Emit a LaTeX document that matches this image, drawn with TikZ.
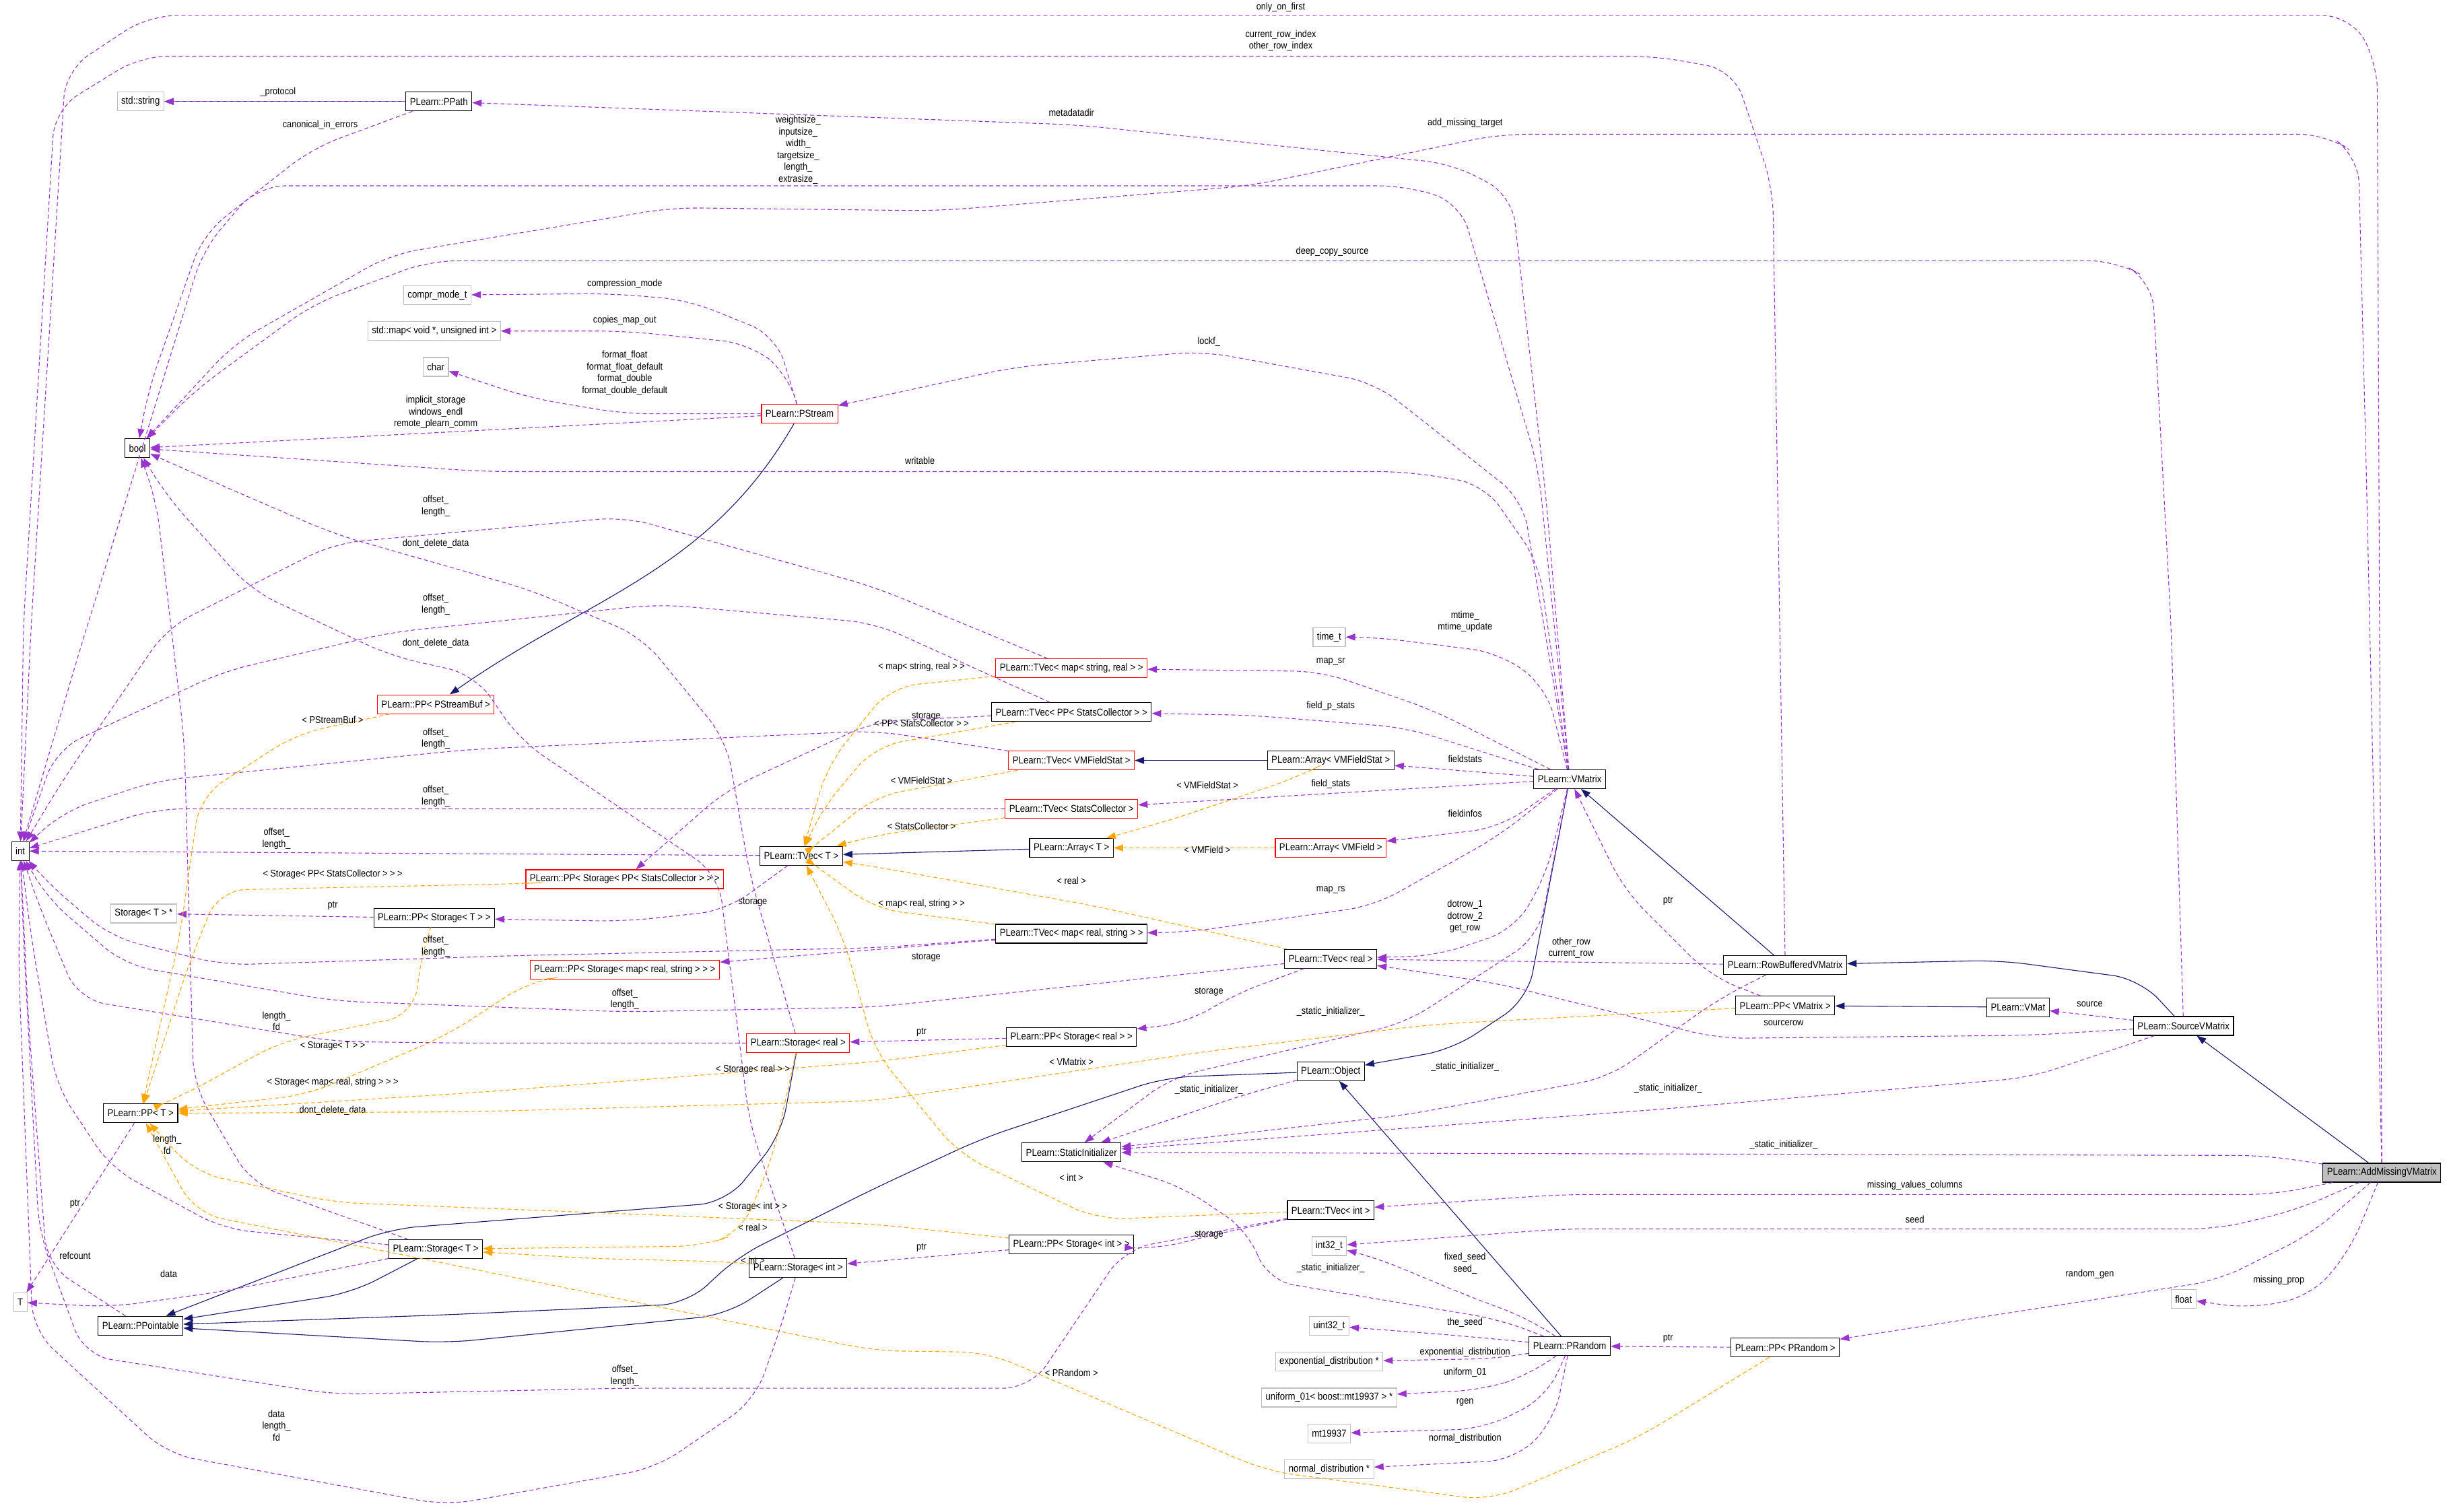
\documentclass[tikz,border=0pt]{standalone}
\usepackage{fontspec}
\setmainfont[FakeStretch=0.88]{Liberation Sans}
\usetikzlibrary{arrows.meta}
\definecolor{pu}{HTML}{9A32CD}
\definecolor{nv}{HTML}{191970}
\definecolor{og}{HTML}{FFA500}
\definecolor{gb}{HTML}{BFBFBF}
\tikzset{
 bx/.style={draw=black,line width=1.2pt,fill=white,font=\fontsize{15}{18}\selectfont,minimum height=28pt,inner xsep=6pt,inner ysep=3pt},
 rbx/.style={bx,draw=red},
 gbx/.style={bx,draw=gb},
 lb/.style={font=\fontsize{14.5}{17.5}\selectfont,align=center,inner sep=0pt},
 u/.style={draw=pu,line width=1.1pt,dash pattern=on 6pt off 4pt,-{Triangle[length=14pt,width=10pt]},rounded corners=40pt},
 tp/.style={draw=og,line width=1.1pt,dash pattern=on 6pt off 4pt,-{Triangle[length=14pt,width=10pt]},rounded corners=40pt},
 inh/.style={draw=nv,line width=1.1pt,-{Triangle[length=14pt,width=10pt]},rounded corners=40pt}
}
\begin{document}
\begin{tikzpicture}[x=2.3195pt,y=-2.3195pt]
\useasboundingbox (0,0) rectangle (1568,968.3);
% nodes
\node[gbx] (str) at (90,65) {std::string};
\node[bx] (ppath) at (281,65) {PLearn::PPath};
\node[bx] (bool) at (88,287) {bool};
\node[gbx] (compr) at (280,189) {compr\_mode\_t};
\node[gbx] (stdmap) at (278,212) {std::map< void *, unsigned int >};
\node[gbx] (char) at (279,235) {char};
\node[rbx] (pstream) at (512,265) {PLearn::PStream};
\node[gbx] (timet) at (851,408) {time\_t};
\node[rbx] (tvmsr) at (686,428) {PLearn::TVec< map< string, real > >};
\node[bx] (tvppsc) at (686,456) {PLearn::TVec< PP< StatsCollector > >};
\node[rbx] (ppsb) at (279,451) {PLearn::PP< PStreamBuf >};
\node[rbx] (tvvmfs) at (686,487) {PLearn::TVec< VMFieldStat >};
\node[bx] (arvmfs) at (852,487) {PLearn::Array< VMFieldStat >};
\node[bx] (vmatrix) at (1005,499) {PLearn::VMatrix};
\node[rbx] (tvsc) at (686,518) {PLearn::TVec< StatsCollector >};
\node[bx] (int) at (13,545) {int};
\node[bx] (tvT) at (513,548) {PLearn::TVec< T >};
\node[bx] (arT) at (686,543) {PLearn::Array< T >};
\node[rbx] (arvmf) at (852,543) {PLearn::Array< VMField >};
\node[rbx] (ppstppsc) at (400,563) {PLearn::PP< Storage< PP< StatsCollector > > >};
\node[gbx] (storTp) at (92,585) {Storage< T > *};
\node[bx] (ppstT) at (278,588) {PLearn::PP< Storage< T > >};
\node[bx] (tvmrs) at (686,598) {PLearn::TVec< map< real, string > >};
\node[bx] (tvreal) at (852,614) {PLearn::TVec< real >};
\node[bx] (rowbuf) at (1143,618) {PLearn::RowBufferedVMatrix};
\node[rbx] (ppstmrs) at (400,621) {PLearn::PP< Storage< map< real, string > > >};
\node[bx] (ppvm) at (1143,644) {PLearn::PP< VMatrix >};
\node[bx] (vmat) at (1292,645) {PLearn::VMat};
\node[bx] (srcvm) at (1398,657) {PLearn::SourceVMatrix};
\node[rbx] (storreal) at (511,668) {PLearn::Storage< real >};
\node[bx] (ppstreal) at (686,664) {PLearn::PP< Storage< real > >};
\node[bx] (object) at (852,686) {PLearn::Object};
\node[bx] (ppT) at (90,713) {PLearn::PP< T >};
\node[bx] (statinit) at (686,738) {PLearn::StaticInitializer};
\node[bx,fill=gb] (addmiss) at (1525,751) {PLearn::AddMissingVMatrix};
\node[bx] (tvint) at (852,775) {PLearn::TVec< int >};
\node[gbx] (int32) at (851,798) {int32\_t};
\node[bx] (ppstint) at (686,797) {PLearn::PP< Storage< int > >};
\node[bx] (storT) at (279,800) {PLearn::Storage< T >};
\node[bx] (storint) at (511,812) {PLearn::Storage< int >};
\node[gbx] (float) at (1398,832) {float};
\node[gbx] (T) at (13,834) {T};
\node[bx] (ppointable) at (90,849) {PLearn::PPointable};
\node[gbx] (uint32) at (851,849) {uint32\_t};
\node[bx] (prandom) at (1005,862) {PLearn::PRandom};
\node[bx] (pprandom) at (1143,863) {PLearn::PP< PRandom >};
\node[gbx] (expd) at (851,872) {exponential\_distribution *};
\node[gbx] (unif) at (851,895) {uniform\_01< boost::mt19937 > *};
\node[gbx] (mt) at (851,918) {mt19937};
\node[gbx] (normd) at (851,941) {normal\_distribution *};
% inheritance
\draw[inh] (ppath) -- (str);
\draw[inh] (pstream) to[out=240,in=35] (ppsb);
\draw[inh] (arvmfs) -- (tvvmfs);
\draw[inh] (arT) -- (tvT);
\draw[inh] (vmatrix) -- (978,640) -- (930,672) -- (object);
\draw[inh] (rowbuf) -- (vmatrix);
\draw[inh] (vmat) -- (ppvm);
\draw[inh] (srcvm) -- (1370,627) -- (1280,615) -- (rowbuf);
\draw[inh] (addmiss) -- (srcvm);
\draw[inh] (object) -- (746,690) -- (629,729) -- (560,761) -- (472,805) -- (440,835) -- (286,842) -- (ppointable);
\draw[inh] (prandom) -- (object);
\draw[inh] (storreal) -- (500,727) -- (465,770) -- (250,787) -- (ppointable);
\draw[inh] (storT) -- (225,828) -- (ppointable);
\draw[inh] (storint) -- (465,842) -- (286,860) -- (ppointable);
% usage edges
\draw[u] (addmiss) -- (1522,40) -- (1505,10) -- (95,10) -- (42,45) -- (20,400) -- (int);
\node[lb] (l1) at (820,4.5) {only\_on\_first};
\draw[u] (rowbuf) -- (1135,120) -- (1110,45) -- (1060,36) -- (90,36) -- (35,70) -- (15,400) -- (int);
\node[lb] (l2) at (820,26) {current\_row\_index\\other\_row\_index};
\draw[u] (vmatrix) -- (985,300) -- (935,130) -- (900,119) -- (165,119) -- (130,160) -- (50,420) -- (int);
\node[lb] (l3) at (511,96) {weightsize\_\\inputsize\_\\width\_\\targetsize\_\\length\_\\extrasize\_};
\draw[u] (vmatrix) -- (990,320) -- (968,125) -- (930,105) -- (690,80) -- (ppath);
\node[lb] (l4) at (686,72) {metadatadir};
\draw[u] (addmiss) -- (1515,300) -- (1510,100) -- (1490,86) -- (960,86) -- (800,119) -- (600,135) -- (430,133) -- (250,163) -- (150,220) -- (bool);
\node[lb] (l5) at (938,79) {add\_missing\_target};
\draw[u] (srcvm) -- (1390,400) -- (1378,180) -- (1355,167) -- (275,167) -- (200,195) -- (125,250) -- (bool);
\node[lb] (l6) at (853,161) {deep\_copy\_source};
\draw[u] (vmatrix) -- (975,320) -- (880,245) -- (770,225) -- (650,235) -- (pstream);
\node[lb] (l7) at (774,219) {lockf\_};
\draw[u] (vmatrix) -- (985,360) -- (950,310) -- (900,302) -- (310,302) -- (bool);
\node[lb] (l8) at (589,295) {writable};
\draw[u] (ppath) -- (str);
\node[lb] (l9) at (178,59) {\_protocol};
\draw[u] (ppath) -- (200,95) -- (130,150) -- (95,250) -- (bool);
\node[lb] (l10) at (205,80) {canonical\_in\_errors};
\draw[u] (pstream) -- (497,215) -- (440,192) -- (390,188) -- (compr);
\node[lb] (l11) at (400,182) {compression\_mode};
\draw[u] (pstream) -- (505,240) -- (480,220) -- (400,212) -- (stdmap);
\node[lb] (l12) at (400,205) {copies\_map\_out};
\draw[u] (pstream) -- (400,265) -- (340,255) -- (char);
\node[lb] (l13) at (400,239) {format\_float\\format\_float\_default\\format\_double\\format\_double\_default};
\draw[u] (pstream) -- (bool);
\node[lb] (l14) at (279,264) {implicit\_storage\\windows\_endl\\remote\_plearn\_comm};
\draw[u] (tvmsr) -- (560,376) -- (400,331) -- (214,348) -- (107,402) -- (40,500) -- (int);
\node[lb] (l15) at (279,324) {offset\_\\length\_};
\draw[u] (tvppsc) -- (560,399) -- (422,387) -- (250,405) -- (143,430) -- (36,480) -- (int);
\node[lb] (l16) at (279,387) {offset\_\\length\_};
\draw[u] (storreal) -- (480,560) -- (465,474) -- (411,408) -- (340,378) -- (214,342) -- (140,310) -- (bool);
\node[lb] (l17) at (279,348) {dont\_delete\_data};
\draw[u] (storint) -- (480,720) -- (460,560) -- (333,474) -- (304,432) -- (250,420) -- (161,378) -- (107,318) -- (bool);
\node[lb] (l18) at (279,412) {dont\_delete\_data};
\draw[u] (storT) -- (161,758) -- (124,695) -- (118,474) -- (100,320) -- (bool);
\node[lb] (l19) at (213,711) {dont\_delete\_data};
\draw[u] (tvT) -- (int);
\node[lb] (l20) at (177,537) {offset\_\\length\_};
\draw[u] (tvvmfs) -- (560,468) -- (300,480) -- (100,500) -- (40,520) -- (int);
\node[lb] (l21) at (279,473) {offset\_\\length\_};
\draw[u] (tvsc) -- (100,518) -- (int);
\node[lb] (l22) at (279,510) {offset\_\\length\_};
\draw[u] (tvmrs) -- (560,607) -- (330,612) -- (143,618) -- (71,600) -- (30,565) -- (int);
\node[lb] (l23) at (279,606) {offset\_\\length\_};
\draw[u] (tvreal) -- (560,645) -- (400,648) -- (214,641) -- (80,618) -- (30,575) -- (int);
\node[lb] (l24) at (400,640) {offset\_\\length\_};
\draw[u] (storreal) -- (300,668) -- (214,667) -- (50,640) -- (25,580) -- (int);
\node[lb] (l25) at (177,654) {length\_\\fd};
\draw[u] (tvint) -- (720,800) -- (660,889) -- (400,889) -- (214,893) -- (54,868) -- (25,789) -- (15,600) -- (int);
\node[lb] (l26) at (400,881) {offset\_\\length\_};
\draw[u] (storint) -- (500,850) -- (483,897) -- (420,940) -- (286,964) -- (107,931) -- (21,852) -- (12,620) -- (int);
\node[lb] (l27) at (177,913) {data\\length\_\\fd};
\draw[u] (storT) -- (143,787) -- (71,748) -- (36,695) -- (20,600) -- (int);
\node[lb] (l28) at (107,733) {length\_\\fd};
\draw[u] (storT) -- (143,827) -- (71,837) -- (T);
\node[lb] (l29) at (108,816) {data};
\draw[u] (ppointable) -- (30,810) -- (18,650) -- (int);
\node[lb] (l30) at (48,804) {refcount};
\draw[u] (ppT) -- (T);
\node[lb] (l31) at (48,771) {ptr};
\draw[u] (ppstT) -- (storTp);
\node[lb] (l32) at (213,580) {ptr};
\draw[u] (tvT) -- (465,583) -- (400,590) -- (ppstT);
\node[lb] (l33) at (482,578) {storage};
\draw[u] (tvppsc) -- (560,462) -- (465,506) -- (ppstppsc);
\node[lb] (l34) at (593,459) {storage};
\draw[u] (tvmrs) -- (ppstmrs);
\node[lb] (l35) at (593,613) {storage};
\draw[u] (ppstreal) -- (storreal);
\node[lb] (l36) at (590,661) {ptr};
\draw[u] (tvreal) -- (790,637) -- (760,655) -- (ppstreal);
\node[lb] (l37) at (774,635) {storage};
\draw[u] (ppstint) -- (storint);
\node[lb] (l38) at (590,799) {ptr};
\draw[u] (tvint) -- (780,790) -- (740,800) -- (ppstint);
\node[lb] (l39) at (774,791) {storage};
\draw[u] (vmatrix) -- (918,455) -- (846,430) -- (tvmsr);
\node[lb] (l40) at (852,424) {map\_sr};
\draw[u] (vmatrix) -- (900,466) -- (800,458) -- (tvppsc);
\node[lb] (l41) at (852,452) {field\_p\_stats};
\draw[u] (vmatrix) -- (arvmfs);
\node[lb] (l42) at (938,486) {fieldstats};
\draw[u] (vmatrix) -- (tvsc);
\node[lb] (l43) at (852,502) {field\_stats};
\draw[u] (vmatrix) -- (960,530) -- (arvmf);
\node[lb] (l44) at (938,521) {fieldinfos};
\draw[u] (vmatrix) -- (960,535) -- (880,580) -- (760,597) -- (tvmrs);
\node[lb] (l45) at (852,570) {map\_rs};
\draw[u] (vmatrix) -- (990,560) -- (970,595) -- (920,612) -- (tvreal);
\node[lb] (l46) at (938,587) {dotrow\_1\\dotrow\_2\\get\_row};
\draw[u] (vmatrix) -- (990,440) -- (960,418) -- (880,408) -- (timet);
\node[lb] (l47) at (938,398) {mtime\_\\mtime\_update};
\draw[u] (vmatrix) -- (985,600) -- (900,655) -- (750,690) -- (statinit);
\node[lb] (l48) at (852,648) {\_static\_initializer\_};
\draw[u] (rowbuf) -- (tvreal);
\node[lb] (l49) at (1006,607) {other\_row\\current\_row};
\draw[u] (rowbuf) -- (1100,640) -- (1030,690) -- (900,714) -- (statinit);
\node[lb] (l50) at (938,683) {\_static\_initializer\_};
\draw[u] (ppvm) -- (1095,625) -- (1040,570) -- (vmatrix);
\node[lb] (l51) at (1068,577) {ptr};
\draw[u] (srcvm) -- (vmat);
\node[lb] (l52) at (1338,643) {source};
\draw[u] (srcvm) -- (1300,663) -- (1100,665) -- (960,630) -- (tvreal);
\node[lb] (l53) at (1142,655) {sourcerow};
\draw[u] (srcvm) -- (1300,690) -- (1068,710) -- (800,730) -- (statinit);
\node[lb] (l54) at (1068,697) {\_static\_initializer\_};
\draw[u] (addmiss) -- (1450,740) -- (statinit);
\node[lb] (l55) at (1142,733) {\_static\_initializer\_};
\draw[u] (addmiss) -- (1455,765) -- (1000,765) -- (tvint);
\node[lb] (l56) at (1226,759) {missing\_values\_columns};
\draw[u] (addmiss) -- (1470,775) -- (1420,787) -- (1000,787) -- (int32);
\node[lb] (l57) at (1226,781) {seed};
\draw[u] (addmiss) -- (1480,790) -- (1420,820) -- (pprandom);
\node[lb] (l58) at (1338,816) {random\_gen};
\draw[u] (addmiss) -- (1505,800) -- (1480,830) -- (1440,838) -- (float);
\node[lb] (l59) at (1459,820) {missing\_prop};
\draw[u] (object) -- (800,700) -- (statinit);
\node[lb] (l60) at (774,698) {\_static\_initializer\_};
\draw[u] (prandom) -- (960,845) -- (811,820) -- (800,789) -- (757,760) -- (statinit);
\node[lb] (l61) at (852,812) {\_static\_initializer\_};
\draw[u] (prandom) -- (980,845) -- (940,830) -- (880,805) -- (int32);
\node[lb] (l62) at (938,809) {fixed\_seed\\seed\_};
\draw[u] (prandom) -- (930,855) -- (uint32);
\node[lb] (l63) at (938,847) {the\_seed};
\draw[u] (prandom) -- (960,870) -- (expd);
\node[lb] (l64) at (938,866) {exponential\_distribution};
\draw[u] (prandom) -- (980,880) -- (950,890) -- (unif);
\node[lb] (l65) at (938,879) {uniform\_01};
\draw[u] (prandom) -- (990,895) -- (950,915) -- (mt);
\node[lb] (l66) at (938,898) {rgen};
\draw[u] (prandom) -- (995,910) -- (970,935) -- (normd);
\node[lb] (l67) at (938,921) {normal\_distribution};
\draw[u] (pprandom) -- (prandom);
\node[lb] (l68) at (1068,857) {ptr};
% template edges
\draw[tp] (ppsb) -- (190,470) -- (128,510) -- (115,600) -- (ppT);
\node[lb] (t1) at (213,461) {< PStreamBuf >};
\draw[tp] (ppstppsc) -- (330,566) -- (140,570) -- (120,620) -- (ppT);
\node[lb] (t2) at (213,560) {< Storage< PP< StatsCollector > > >};
\draw[tp] (ppstT) -- (270,610) -- (265,650) -- (180,667) -- (120,700) -- (ppT);
\node[lb] (t3) at (213,670) {< Storage< T > >};
\draw[tp] (ppstmrs) -- (340,628) -- (286,663) -- (197,701) -- (ppT);
\node[lb] (t4) at (213,693) {< Storage< map< real, string > > >};
\draw[tp] (ppstreal) -- (560,680) -- (300,700) -- (ppT);
\node[lb] (t5) at (482,685) {< Storage< real > >};
\draw[tp] (ppvm) -- (918,656) -- (775,673) -- (560,705) -- (300,712) -- (ppT);
\node[lb] (t6) at (686,680) {< VMatrix >};
\draw[tp] (ppstint) -- (560,784) -- (393,777) -- (214,770) -- (125,751) -- (ppT);
\node[lb] (t7) at (482,773) {< Storage< int > >};
\draw[tp] (pprandom) -- (1050,920) -- (954,961) -- (811,942) -- (632,866) -- (560,865) -- (250,802) -- (125,777) -- (ppT);
\node[lb] (t8) at (686,879) {< PRandom >};
\draw[tp] (storreal) -- (495,740) -- (475,789) -- (450,798) -- (storT);
\node[lb] (t9) at (482,786) {< real >};
\draw[tp] (storint) -- (465,808) -- (380,806) -- (storT);
\node[lb] (t10) at (482,807) {< int >};
\draw[tp] (tvreal) -- (700,580) -- (560,555) -- (tvT);
\node[lb] (t11) at (686,564) {< real >};
\draw[tp] (tvint) -- (703,781) -- (614,739) -- (560,673) -- (540,600) -- (tvT);
\node[lb] (t12) at (686,754) {< int >};
\draw[tp] (tvmsr) -- (570,440) -- (530,490) -- (tvT);
\node[lb] (t13) at (590,427) {< map< string, real > >};
\draw[tp] (tvppsc) -- (560,478) -- (525,520) -- (tvT);
\node[lb] (t14) at (590,463) {< PP< StatsCollector > >};
\draw[tp] (tvvmfs) -- (560,510) -- (530,535) -- (tvT);
\node[lb] (t15) at (590,500) {< VMFieldStat >};
\draw[tp] (tvsc) -- (560,535) -- (tvT);
\node[lb] (t16) at (590,529) {< StatsCollector >};
\draw[tp] (tvmrs) -- (560,582) -- (530,560) -- (tvT);
\node[lb] (t17) at (590,579) {< map< real, string > >};
\draw[tp] (arvmfs) -- (830,498) -- (750,525) -- (arT);
\node[lb] (t18) at (773,503) {< VMFieldStat >};
\draw[tp] (arvmf) -- (arT);
\node[lb] (t19) at (773,544) {< VMField >};
\end{tikzpicture}
\end{document}
